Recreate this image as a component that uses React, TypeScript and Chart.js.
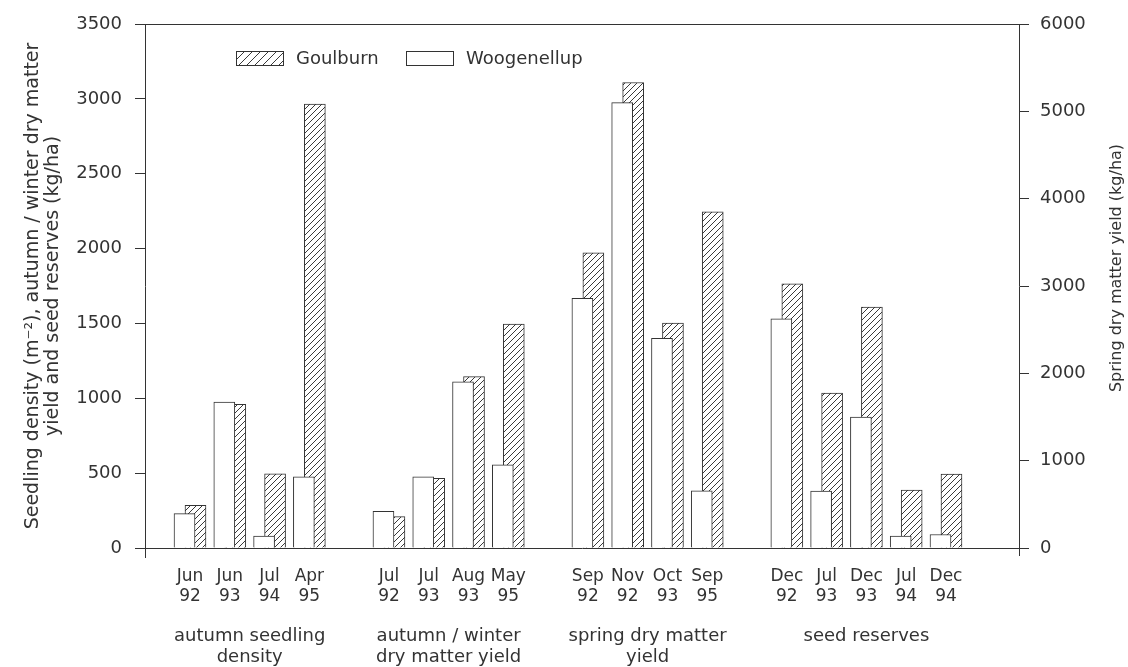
import React, { useEffect, useRef } from 'react';
import { Chart, registerables } from 'chart.js';

Chart.register(...registerables);

const FONT = "'DejaVu Sans', 'Liberation Sans', sans-serif";
const INK = '#333333';

// ---- data ----
const groupTitles = [
  ['autumn seedling', 'density'],
  ['autumn / winter', 'dry matter yield'],
  ['spring dry matter', 'yield'],
  ['seed reserves'],
];
const groupAxes = ['yLeft', 'yLeft', 'yRight', 'yLeft'];

const seedlingDates = ['Jun 92', 'Jun 93', 'Jul 94', 'Apr 95'];
const autumnDates = ['Jul 92', 'Jul 93', 'Aug 93', 'May 95'];
const springDates = ['Sep 92', 'Nov 92', 'Oct 93', 'Sep 95'];
const seedDates = ['Dec 92', 'Jul 93', 'Dec 93', 'Jul 94', 'Dec 94'];

const goulburnSeedling = [285, 960, 495, 2965];
const woogenellupSeedling = [230, 975, 80, 475];
const goulburnAutumn = [210, 465, 1145, 1495];
const woogenellupAutumn = [245, 475, 1110, 555];
const goulburnSpring = [3380, 5330, 2575, 3850];
const woogenellupSpring = [2860, 5100, 2400, 655];
const goulburnSeed = [1765, 1035, 1610, 387, 494];
const woogenellupSeed = [1530, 380, 875, 80, 90];

const leftTicks = [0, 500, 1000, 1500, 2000, 2500, 3000, 3500];
const rightTicks = [0, 1000, 2000, 3000, 4000, 5000, 6000];

const leftTitle = ['Seedling density (m\u207B\u00B2), autumn / winter dry matter', 'yield and seed reserves (kg/ha)'];
const rightTitle = 'Spring dry matter yield (kg/ha)';
const seriesNames = ['Goulburn', 'Woogenellup'];

// ---- derived ----
const groupDates = [seedlingDates, autumnDates, springDates, seedDates];
const goulburnGroups = [goulburnSeedling, goulburnAutumn, goulburnSpring, goulburnSeed];
const woogenellupGroups = [woogenellupSeedling, woogenellupAutumn, woogenellupSpring, woogenellupSeed];

// one empty slot between groups
const slots: number[][] = [];
{
  let s = 0;
  groupDates.forEach((d) => {
    slots.push(d.map((_, i) => s + i));
    s += d.length + 1;
  });
}
const allSlots = slots.flat();
const allDates = groupDates.flat();

const PAIR_SHIFT = 0.138;

function points(groups: number[][], axis: string, shift: number) {
  const pts: { x: number; y: number }[] = [];
  groups.forEach((vals, g) => {
    if (groupAxes[g] !== axis) return;
    vals.forEach((v, i) => pts.push({ x: slots[g][i] + shift, y: v }));
  });
  return pts;
}

function makeHatch(ctx: CanvasRenderingContext2D, size: number) {
  const c = document.createElement('canvas');
  c.width = size;
  c.height = size;
  const g = c.getContext('2d')!;
  g.fillStyle = '#ffffff';
  g.fillRect(0, 0, size, size);
  g.strokeStyle = '#3a3a3a';
  g.lineWidth = 1;
  g.beginPath();
  g.moveTo(0, size);
  g.lineTo(size, 0);
  g.moveTo(-size / 2, size / 2);
  g.lineTo(size / 2, -size / 2);
  g.moveTo(size / 2, size * 1.5);
  g.lineTo(size * 1.5, size / 2);
  g.stroke();
  return ctx.createPattern(c, 'repeat')!;
}

export default function App() {
  const ref = useRef<HTMLCanvasElement | null>(null);

  useEffect(() => {
    const canvas = ref.current!;
    const ctx = canvas.getContext('2d')!;
    const hatch = makeHatch(ctx, 6);
    const legendHatch = makeHatch(ctx, 8);

    const barCommon = {
      grouped: false,
      barThickness: 21,
      borderWidth: 1,
      borderColor: INK,
      xAxisID: 'x',
    };

    const decor = {
      id: 'decor',
      afterDraw(chart: any) {
        const c = chart.ctx as CanvasRenderingContext2D;
        const { left, right, top, bottom } = chart.chartArea;
        const xs = chart.scales.x;
        c.save();
        c.strokeStyle = INK;
        c.lineWidth = 1;
        c.beginPath();
        c.moveTo(left - 10, Math.round(top) + 0.5);
        c.lineTo(right, Math.round(top) + 0.5);
        c.moveTo(Math.round(left) + 0.5, bottom);
        c.lineTo(Math.round(left) + 0.5, bottom + 10);
        c.moveTo(Math.round(right) + 0.5, bottom);
        c.lineTo(Math.round(right) + 0.5, bottom + 8);
        c.stroke();

        // group captions
        c.fillStyle = INK;
        c.font = `18px ${FONT}`;
        c.textAlign = 'center';
        c.textBaseline = 'middle';
        slots.forEach((sl, g) => {
          const cx = (xs.getPixelForValue(sl[0]) + xs.getPixelForValue(sl[sl.length - 1])) / 2;
          groupTitles[g].forEach((line, j) => c.fillText(line, cx, bottom + 88 + j * 21));
        });

        // right axis title (reads bottom to top)
        c.save();
        c.translate(right + 98, (top + bottom) / 2 - 18);
        c.rotate(-Math.PI / 2);
        c.font = `16px ${FONT}`;
        c.fillText(rightTitle, 0, 0);
        c.restore();

        // legend
        const ly = top + 27;
        const items = [
          { x: left + 91, fill: legendHatch as any, text: seriesNames[0] },
          { x: left + 261, fill: '#ffffff' as any, text: seriesNames[1] },
        ];
        c.font = `18px ${FONT}`;
        c.textAlign = 'left';
        items.forEach((it) => {
          c.fillStyle = it.fill;
          c.fillRect(it.x, ly, 47, 14);
          c.strokeStyle = INK;
          c.strokeRect(it.x + 0.5, ly + 0.5, 47, 14);
          c.fillStyle = INK;
          c.fillText(it.text, it.x + 60, ly + 8);
        });
        c.restore();
      },
    };

    const chart = new Chart(canvas, {
      type: 'bar',
      data: {
        datasets: [
          { ...barCommon, label: seriesNames[1], data: points(woogenellupGroups, 'yLeft', -PAIR_SHIFT), yAxisID: 'yLeft', backgroundColor: '#ffffff', order: 0 },
          { ...barCommon, label: seriesNames[0], data: points(goulburnGroups, 'yLeft', PAIR_SHIFT), yAxisID: 'yLeft', backgroundColor: hatch, order: 1 },
          { ...barCommon, label: seriesNames[1], data: points(woogenellupGroups, 'yRight', -PAIR_SHIFT), yAxisID: 'yRight', backgroundColor: '#ffffff', order: 0 },
          { ...barCommon, label: seriesNames[0], data: points(goulburnGroups, 'yRight', PAIR_SHIFT), yAxisID: 'yRight', backgroundColor: hatch, order: 1 },
        ] as any,
      },
      options: {
        animation: false,
        responsive: false,
        devicePixelRatio: 1,
        layout: { padding: { top: 24, left: 0, right: 0, bottom: 0 } },
        plugins: { legend: { display: false }, tooltip: { enabled: false } },
        scales: {
          x: {
            type: 'linear',
            position: 'bottom',
            min: -1.131,
            max: 20.835,
            offset: false,
            grid: { display: false, drawTicks: false },
            border: { display: true, color: INK, width: 1, z: 1 },
            afterBuildTicks: (axis: any) => {
              axis.ticks = allSlots.map((v) => ({ value: v }));
            },
            afterFit: (axis: any) => {
              axis.height = 119;
            },
            ticks: {
              autoSkip: false,
              maxRotation: 0,
              padding: 18,
              color: INK,
              font: { family: FONT, size: 17, lineHeight: 1.2 },
              callback: (_v: any, i: number) => allDates[i].split(' '),
            },
          },
          yLeft: {
            type: 'linear',
            position: 'left',
            min: 0,
            max: 3500,
            afterBuildTicks: (axis: any) => {
              axis.ticks = leftTicks.map((v) => ({ value: v }));
            },
            afterFit: (axis: any) => {
              axis.width = 145;
            },
            grid: { drawOnChartArea: false, drawTicks: true, tickLength: 10, color: INK, tickColor: INK },
            border: { display: true, color: INK, width: 1 },
            ticks: { padding: 13, color: INK, font: { family: FONT, size: 18 }, callback: (v: any) => String(v) },
            title: {
              display: true,
              text: leftTitle,
              color: INK,
              font: { family: FONT, size: 19, lineHeight: 1.05 },
              padding: { top: 23, bottom: 0 },
            },
          },
          yRight: {
            type: 'linear',
            position: 'right',
            min: 0,
            max: 6000,
            afterBuildTicks: (axis: any) => {
              axis.ticks = rightTicks.map((v) => ({ value: v }));
            },
            afterFit: (axis: any) => {
              axis.width = 109;
            },
            grid: { drawOnChartArea: false, drawTicks: true, tickLength: 10, color: INK, tickColor: INK },
            border: { display: true, color: INK, width: 1 },
            ticks: { padding: 11, color: INK, font: { family: FONT, size: 18 }, callback: (v: any) => String(v) },
          },
        },
      } as any,
      plugins: [decor],
    });

    return () => chart.destroy();
  }, []);

  return (
    <div style={{ position: 'fixed', left: 0, top: 0, width: 1128, height: 667, background: '#ffffff' }}>
      <canvas ref={ref} width={1128} height={667} style={{ display: 'block' }} />
    </div>
  );
}
